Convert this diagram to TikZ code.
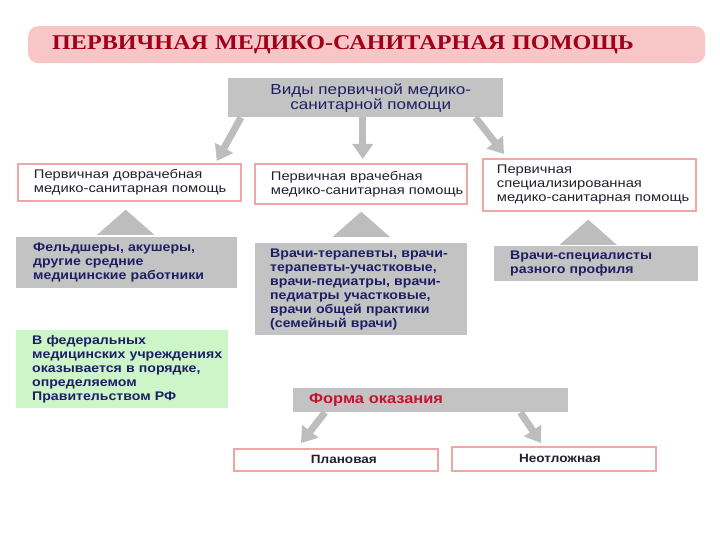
\documentclass[tikz,border=0pt]{standalone}
\usepackage{fontspec}
\setmainfont{Liberation Sans}
\newfontfamily\bodyfont{Liberation Sans}[FakeStretch=1.18]
\newfontfamily\boldbodyfont{Liberation Sans}[FakeStretch=1.13]
\newfontfamily\titlefont{Liberation Serif}[FakeStretch=1.15]
\usetikzlibrary{arrows.meta,calc}
\definecolor{boxgray}{HTML}{C3C3C3}
\definecolor{arrowgray}{HTML}{BDBDBD}
\definecolor{pinkline}{HTML}{F2A7A7}
\definecolor{greenfill}{HTML}{CCF5C8}
\definecolor{titlefill}{HTML}{F8C6C6}
\definecolor{titlered}{HTML}{A0001A}
\definecolor{navy}{HTML}{1E1E64}
\definecolor{formred}{HTML}{C8102E}
\definecolor{darktext}{HTML}{202030}
\begin{document}
\begin{tikzpicture}[x=1pt,y=-1pt,
  txt/.style={font=\bodyfont\fontsize{12.5}{14}\selectfont},
  pinkbox/.style={txt, draw=pinkline, line width=1.8pt, fill=white, rectangle, anchor=north west, align=left, inner ysep=0pt, text=darktext},
  graybox/.style={fill=boxgray, rectangle, anchor=north west, align=left, inner ysep=0pt, text=navy, font=\boldbodyfont\bfseries\fontsize{12.5}{14}\selectfont},
  greenbox/.style={graybox, fill=greenfill},
  blockarrow/.style={draw=arrowgray, line width=7pt, -{Triangle[width=20pt,length=15pt]}},
  uptri/.style={draw=arrowgray, line width=0.1pt, -{Triangle[width=57pt,length=25pt]}}
]
\useasboundingbox (0,0) rectangle (720,540);
% title
\node[anchor=north west, rectangle, rounded corners=10pt, fill=titlefill, minimum width=677pt, minimum height=37pt, inner xsep=24pt, text width=629pt, align=left, text=titlered, font=\titlefont\bfseries\fontsize{21}{22}\selectfont] (title) at (28,26) {ПЕРВИЧНАЯ МЕДИКО-САНИТАРНАЯ ПОМОЩЬ};
% top box
\node[graybox, align=center, font=\bodyfont\fontsize{14.5}{15}\selectfont, minimum width=275pt, minimum height=39pt, text width=265pt, inner xsep=5pt] (vid) at (228,78) {\hspace*{10pt}Виды первичной медико-\\\hspace*{10pt}санитарной помощи};
% row 1
\node[pinkbox, inner xsep=16pt, text width=191pt, minimum height=37pt] (b1) at (17,163) {\mbox{Первичная доврачебная}\\\mbox{медико-санитарная помощь}};
\node[pinkbox, inner xsep=16pt, text width=180pt, minimum height=40pt] (b2) at (254,163) {\mbox{Первичная врачебная}\\\mbox{медико-санитарная помощь}};
\node[pinkbox, inner xsep=14pt, text width=185pt, minimum height=52pt] (b3) at (482,158) {\mbox{Первичная}\\\mbox{специализированная}\\\mbox{медико-санитарная помощь}};
% row 2
\node[graybox, inner xsep=17pt, text width=187pt, minimum height=51pt] (c1) at (16,237) {\mbox{Фельдшеры, акушеры,}\\\mbox{другие средние}\\\mbox{медицинские работники}};
\node[graybox, inner xsep=15pt, text width=182pt, minimum height=92pt] (c2) at (255,243) {\mbox{Врачи-терапевты, врачи-}\\\mbox{терапевты-участковые,}\\\mbox{врачи-педиатры, врачи-}\\\mbox{педиатры участковые,}\\\mbox{врачи общей практики}\\\mbox{(семейный врачи)}};
\node[graybox, inner xsep=16pt, text width=172pt, minimum height=35pt] (c3) at (494,246) {\mbox{Врачи-специалисты}\\\mbox{разного профиля}};
% green
\node[greenbox, inner xsep=16pt, text width=180pt, minimum height=78pt] (g) at (16,330) {\mbox{В федеральных}\\\mbox{медицинских учреждениях}\\\mbox{оказывается в порядке,}\\\mbox{определяемом}\\\mbox{Правительством РФ}};
% forma
\node[graybox, inner xsep=16pt, text width=243pt, minimum height=24pt, text=formred, font=\boldbodyfont\bfseries\fontsize{14.5}{15}\selectfont] (f) at (293,388) {Форма оказания};
\node[pinkbox, align=center, inner xsep=4pt, text width=196pt, minimum height=22pt, font=\boldbodyfont\bfseries\fontsize{12}{14}\selectfont] (p1) at (233,448) {\hspace*{16pt}Плановая};
\node[pinkbox, align=center, inner xsep=4pt, text width=196pt, minimum height=24pt, font=\boldbodyfont\bfseries\fontsize{12}{14}\selectfont] (p2) at (451,446) {\hspace*{12pt}Неотложная};
% arrows
\draw[blockarrow] ([xshift=13pt]vid.south west) -- ([xshift=-25pt,yshift=2pt]b1.north east);
\draw[blockarrow] ([xshift=-3pt]vid.south) -- ([xshift=-3pt,yshift=4pt]vid.south |- b2.north);
\draw[blockarrow] ([xshift=-28pt]vid.south east) -- ([xshift=22pt,yshift=4pt]b3.north west);
\draw[blockarrow] ([xshift=32pt]f.south west) -- ([xshift=68pt,yshift=5pt]p1.north west);
\draw[blockarrow] ([xshift=-48pt]f.south east) -- ([xshift=90pt,yshift=3pt]p2.north west);
% up triangles
\draw[uptri, shorten <=5pt, shorten >=8pt] ([xshift=-1pt]c1.north) -- ([xshift=-1pt]c1.north |- b1.south);
\draw[uptri, shorten <=11pt, shorten >=7pt] (c2.north) -- (c2.north |- b2.south);
\draw[uptri, shorten <=9pt, shorten >=8pt] ([xshift=-8pt]c3.north) -- ([xshift=-8pt]c3.north |- b3.south);
\end{tikzpicture}
\end{document}
